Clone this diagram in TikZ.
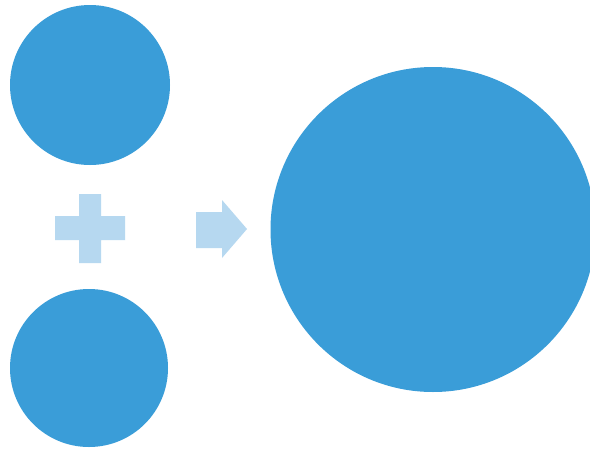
\documentclass[tikz,border=0pt]{standalone}
\definecolor{dotblue}{RGB}{58,157,216}
\definecolor{signblue}{RGB}{182,216,240}
\begin{document}
\begin{tikzpicture}[x=1pt,y=-1pt,
  dot/.style={circle,fill=dotblue,draw=none,inner sep=0pt},
  sign/.style={fill=signblue,draw=none}]
\useasboundingbox (0,0) rectangle (590,456);
\fill[white] (0,0) rectangle (590,456);
\node[dot,minimum size=160pt] (top) at (90,85) {};
\node[dot,minimum size=158pt] (bottom) at (89,368) {};
\node[dot,minimum size=325pt] (big) at (433,229.5) {};
% plus sign
\fill[sign] (79,194) -- (101,194) -- (101,216) -- (125,216) -- (125,240)
  -- (101,240) -- (101,263) -- (79,263) -- (79,240) -- (55,240)
  -- (55,216) -- (79,216) -- cycle;
% arrow
\fill[sign] (196,212) -- (222,212) -- (222,200) -- (247,229) -- (222,258)
  -- (222,248) -- (196,248) -- cycle;
\end{tikzpicture}
\end{document}
